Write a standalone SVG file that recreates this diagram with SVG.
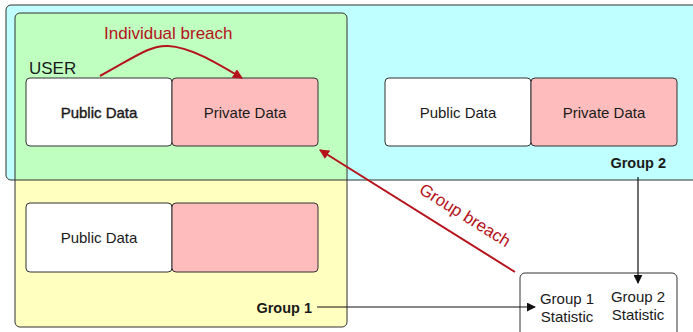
<svg xmlns="http://www.w3.org/2000/svg" width="693" height="332" viewBox="0 0 693 332">
<style>
.t{font-family:"Liberation Sans",Arial,sans-serif;fill:#1a1a1a}
.n{font-size:15px;text-anchor:middle}
.b{font-size:14.5px;font-weight:bold;text-anchor:end}
.r{font-family:"Liberation Sans",Arial,sans-serif;fill:#b5121b;font-size:17px}
.box{stroke:#333;stroke-width:1}
.pub{fill:#fff}
.prv{fill:#ffbcbc}
</style>
<defs>
<marker id="ar" viewBox="0 0 10 10" refX="9" refY="5" markerWidth="10" markerHeight="10" markerUnits="userSpaceOnUse" orient="auto"><path d="M0,0 L10,5 L0,10 z" fill="#b5121b"/></marker>
<marker id="ak" viewBox="0 0 10 10" refX="9" refY="5" markerWidth="9" markerHeight="9" markerUnits="userSpaceOnUse" orient="auto"><path d="M0,0 L10,5 L0,10 z" fill="#111"/></marker>
</defs>
<g id="regions">
<rect x="6" y="5" width="700" height="175" rx="5" fill="#bfffff"/>
<rect x="15" y="13" width="332" height="314" rx="5" fill="#ffffbf"/>
<path d="M15,180 V18 a5,5 0 0 1 5,-5 H342 a5,5 0 0 1 5,5 V180 z" fill="#bfffbf"/>
<rect x="6" y="5" width="700" height="175" rx="5" fill="none" class="box"/>
<rect x="15" y="13" width="332" height="314" rx="5" fill="none" class="box"/>
</g>
<g id="user">
<text class="t" x="29" y="74" font-size="17">USER</text>
<rect class="box pub" x="26" y="78" width="146" height="68" rx="4"/>
<rect class="box prv" x="172" y="78" width="146" height="68" rx="4"/>
<text class="t n" x="99" y="118" stroke="#1a1a1a" stroke-width="0.4">Public Data</text>
<text class="t n" x="245" y="118">Private Data</text>
</g>
<g id="group1-member">
<rect class="box pub" x="26" y="203" width="146" height="69" rx="4"/>
<rect class="box prv" x="172" y="203" width="146" height="69" rx="4"/>
<text class="t n" x="99" y="243">Public Data</text>
</g>
<g id="group2-member">
<rect class="box pub" x="385" y="78" width="146" height="68" rx="4"/>
<rect class="box prv" x="531" y="78" width="146" height="68" rx="4"/>
<text class="t n" x="458" y="118">Public Data</text>
<text class="t n" x="604" y="118">Private Data</text>
</g>
<g id="group-labels">
<text class="t b" x="312" y="313">Group 1</text>
<text class="t b" x="666" y="168">Group 2</text>
</g>
<g id="statistics">
<rect class="box" x="520" y="273" width="157" height="70" rx="5" fill="#fff"/>
<text class="t n" x="567" y="304">Group 1</text>
<text class="t n" x="567" y="322">Statistic</text>
<text class="t n" x="638" y="302">Group 2</text>
<text class="t n" x="638" y="320">Statistic</text>
</g>
<g id="connectors">
<path d="M100,76 C135,57 150,45 168,46 C190,47 215,62 242,78" fill="none" stroke="#b5121b" stroke-width="2" marker-end="url(#ar)"/>
<line x1="515" y1="272" x2="320" y2="150" stroke="#b5121b" stroke-width="2" marker-end="url(#ar)"/>
<line x1="317" y1="307" x2="535" y2="307" stroke="#111" stroke-width="1.2" marker-end="url(#ak)"/>
<line x1="638" y1="177" x2="638" y2="283" stroke="#111" stroke-width="1.2" marker-end="url(#ak)"/>
<text class="r" x="104" y="39">Individual breach</text>
<text class="r" transform="translate(462,220) rotate(32)" x="0" y="0" text-anchor="middle">Group breach</text>
</g>
</svg>
